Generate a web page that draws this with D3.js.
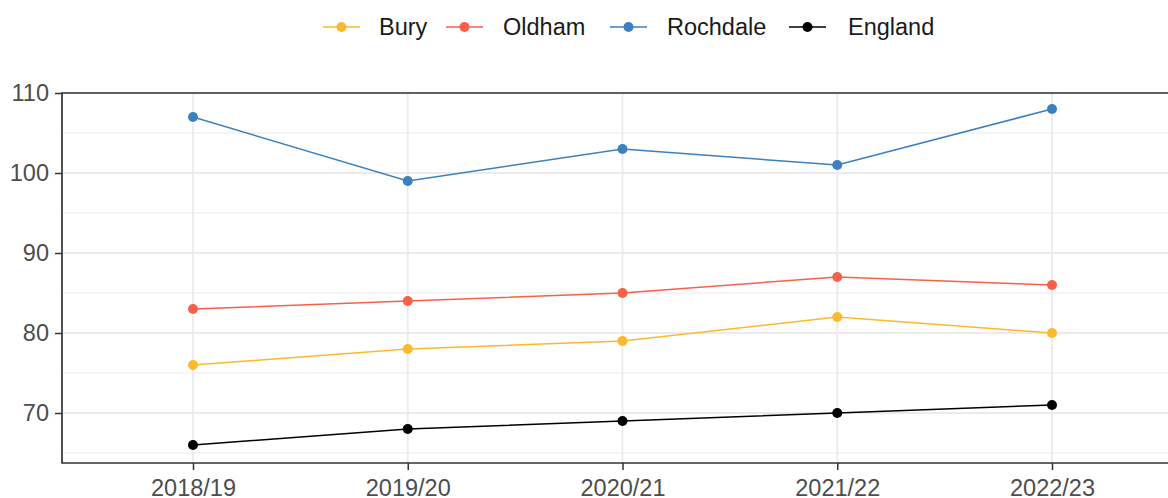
<!DOCTYPE html>
<html>
<head>
<meta charset="utf-8">
<script src="https://cdn.jsdelivr.net/npm/d3@7"></script>
<style>
  body { margin: 0; background: #fff; }
  svg { display: block; font-family: "Liberation Sans", Arial, sans-serif; }
</style>
</head>
<body>
<svg id="chart" width="1168" height="498"></svg>
<script>
var years = ["2018/19", "2019/20", "2020/21", "2021/22", "2022/23"];
var bury = [76, 78, 79, 82, 80];
var oldham = [83, 84, 85, 87, 86];
var rochdale = [107, 99, 103, 101, 108];
var england = [66, 68, 69, 70, 71];
var yTicks = [70, 80, 90, 100, 110];
var yMinor = [65, 75, 85, 95, 105];

var series = [
  {name: "Bury", values: bury, color: "#FDB92E"},
  {name: "Oldham", values: oldham, color: "#F8604A"},
  {name: "Rochdale", values: rochdale, color: "#3B80C0"},
  {name: "England", values: england, color: "#000000"}
];

var svg = d3.select("#chart");
var panelLeft = 62, panelTop = 93, panelBottom = 463, panelRight = 1168;

var x = d3.scalePoint().domain(years).range([193, 1052]);
var y = d3.scaleLinear().domain([63.75, 110]).range([panelBottom, panelTop]);

// gridlines
var grid = svg.append("g");
grid.selectAll("line.minor").data(yMinor).enter().append("line")
  .attr("x1", panelLeft).attr("x2", panelRight)
  .attr("y1", function(d){return y(d)}).attr("y2", function(d){return y(d)})
  .attr("stroke", "#ebebeb").attr("stroke-width", 1.2);
grid.selectAll("line.major").data(yTicks).enter().append("line")
  .attr("x1", panelLeft).attr("x2", panelRight)
  .attr("y1", function(d){return y(d)}).attr("y2", function(d){return y(d)})
  .attr("stroke", "#ebebeb").attr("stroke-width", 1.8);
grid.selectAll("line.vx").data(years).enter().append("line")
  .attr("x1", function(d){return x(d)}).attr("x2", function(d){return x(d)})
  .attr("y1", panelTop).attr("y2", panelBottom)
  .attr("stroke", "#ebebeb").attr("stroke-width", 1.8);

// lines and points
var line = d3.line().x(function(d, i){return x(years[i])}).y(function(d){return y(d)});
series.forEach(function(s) {
  svg.append("path").datum(s.values)
    .attr("d", line).attr("fill", "none")
    .attr("stroke", s.color).attr("stroke-width", 1.5);
  svg.append("g").selectAll("circle").data(s.values).enter().append("circle")
    .attr("cx", function(d, i){return x(years[i])})
    .attr("cy", function(d){return y(d)})
    .attr("r", 5).attr("fill", s.color);
});

// axes
var yAxis = svg.append("g").attr("transform", "translate(" + panelLeft + ",0)")
  .call(d3.axisLeft(y).tickValues(yTicks).tickSize(7).tickPadding(6));
var xAxis = svg.append("g").attr("transform", "translate(0," + panelBottom + ")")
  .call(d3.axisBottom(x).tickSize(7).tickPadding(9));
[yAxis, xAxis].forEach(function(a) {
  a.select(".domain").remove();
  a.selectAll(".tick line").attr("stroke", "#333").attr("stroke-width", 1.5);
  a.selectAll(".tick text").attr("fill", "#4d4d4d").style("font-size", "23.5px")
    .style("font-family", "'Liberation Sans', Arial, sans-serif");
});

// panel border (left, bottom, top)
svg.append("path")
  .attr("d", "M" + panelRight + "," + panelTop + "H" + panelLeft + "V" + panelBottom + "H" + panelRight)
  .attr("fill", "none").attr("stroke", "#333").attr("stroke-width", 1.7);

// legend
var legendPos = [
  {glyph: 323, text: 379},
  {glyph: 446, text: 503},
  {glyph: 610, text: 667},
  {glyph: 789, text: 848}
];
var legend = svg.append("g");
series.forEach(function(s, i) {
  var g = legend.append("g").attr("transform", "translate(" + legendPos[i].glyph + ",27)");
  g.append("line").attr("x1", 0).attr("x2", 37).attr("y1", 0).attr("y2", 0)
    .attr("stroke", s.color).attr("stroke-width", 1.5);
  g.append("circle").attr("cx", 18.5).attr("cy", 0).attr("r", 5).attr("fill", s.color);
  legend.append("text")
    .attr("x", legendPos[i].text).attr("y", 27)
    .attr("dy", "0.35em")
    .attr("fill", "#1a1a1a").style("font-size", "23.5px")
    .text(s.name);
});
</script>
</body>
</html>
